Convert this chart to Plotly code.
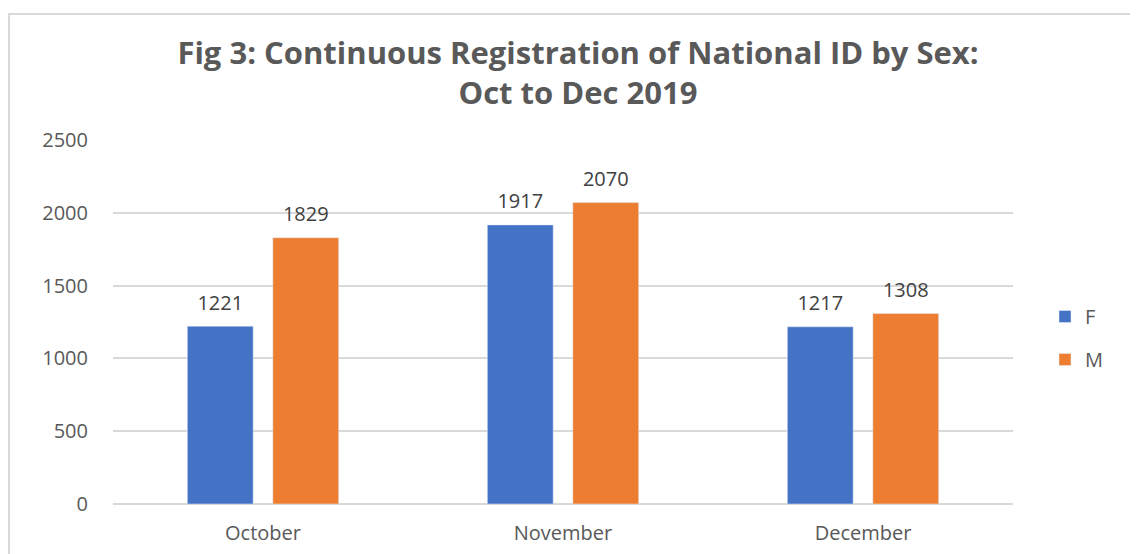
import plotly.graph_objects as go

months = ["October", "November", "December"]
female = [1221, 1917, 1217]
male = [1829, 2070, 1308]
y_ticks = [0, 500, 1000, 1500, 2000, 2500]

FONT = "'Open Sans', sans-serif"
W, H = 1130, 546          # page body has an 8px margin
L, R, T, B = 105, 125, 132, 50
pw, ph = W - L - R, H - T - B

series = [("F", female, "#4472C4"), ("M", male, "#ED7D31")]

fig = go.Figure()
for name, vals, col in series:
    fig.add_trace(go.Bar(name=name, x=months, y=vals, marker_color=col, legendgroup=name,
                         offsetgroup=name))
for name, vals, col in series:
    fig.add_trace(go.Scatter(x=months, y=vals, mode="markers+text", text=vals,
                             textposition="top center", offsetgroup=name, showlegend=False,
                             marker=dict(size=17, opacity=0), cliponaxis=False, hoverinfo="skip",
                             textfont=dict(size=20, color="#404040", family=FONT)))

fig.update_layout(
    width=W, height=H,
    margin=dict(l=L, r=R, t=T, b=B),
    paper_bgcolor="white", plot_bgcolor="white",
    barmode="group", scattermode="group", bargap=0.43, bargroupgap=0.23,
    font=dict(family=FONT, color="#595959"),
    title=dict(text="<b>Fig 3: Continuous Registration of National ID by Sex:<br>Oct to Dec 2019</b>",
               x=(570 - L) / pw, xref="paper", xanchor="center",
               y=1 - 56 / H, yanchor="middle",
               font=dict(size=31, color="#595959", family=FONT)),
    legend=dict(x=(1037 - L) / pw, y=(H - B - 289) / ph, xanchor="left", yanchor="top",
                font=dict(size=20, color="#595959", family=FONT),
                tracegroupgap=14, bgcolor="rgba(0,0,0,0)"),
    xaxis=dict(showgrid=False, showline=False, ticks="", tickfont=dict(size=20, color="#595959"),
               ticklabelstandoff=15, automargin=False),
    yaxis=dict(range=[0, 2500], tickvals=y_ticks, showgrid=True, gridcolor="#D9D9D9", gridwidth=2,
               zeroline=True, zerolinecolor="#D9D9D9", zerolinewidth=2, automargin=False,
               tickfont=dict(size=20, color="#595959"), ticks="", ticklabelstandoff=24),
    shapes=[dict(type="rect", xref="paper", yref="paper",
                 x0=(1 - L) / pw, x1=(1200 - L) / pw,
                 y0=(H - B - 600) / ph, y1=(H - B - 6) / ph,
                 line=dict(color="#D9D9D9", width=2), fillcolor="rgba(0,0,0,0)", layer="below")],
)

fig.write_html("out.html")
